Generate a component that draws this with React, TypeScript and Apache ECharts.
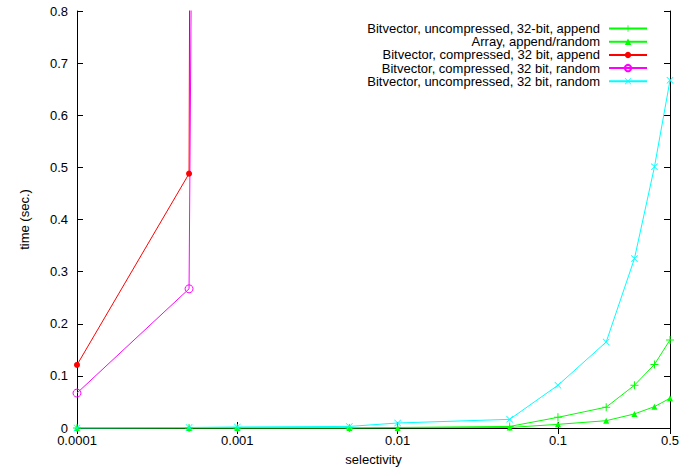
import React, { useEffect, useRef } from "react";
import * as echarts from "echarts";

const xValues = [0.0001, 0.0005, 0.001, 0.005, 0.01, 0.05, 0.1, 0.2, 0.3, 0.4, 0.5];
const uncompAppend = [0, 0, 0, 0, 0.001, 0.003, 0.0205, 0.040, 0.082, 0.122, 0.169];
const arrayAppendRandom = [0, 0, 0, 0, 0, 0.001, 0.007, 0.014, 0.027, 0.041, 0.057];
const compXValues = [0.0001, 0.0005, 0.001];
const compAppend = [0.121, 0.488, 30];
const compRandom = [0.067, 0.267, 13];
const uncompRandom = [0, 0.001, 0.002, 0.003, 0.0096, 0.0166, 0.082, 0.165, 0.325, 0.501, 0.667];

const seriesNames = [
  "Bitvector, uncompressed, 32-bit, append",
  "Array, append/random",
  "Bitvector, compressed, 32 bit, append",
  "Bitvector, compressed, 32 bit, random",
  "Bitvector, uncompressed, 32 bit, random",
];
const yTicks = ["0", "0.1", "0.2", "0.3", "0.4", "0.5", "0.6", "0.7", "0.8"];

const PLUS = "path://M4.4,0H5.6V4.4H10V5.6H5.6V10H4.4V5.6H0V4.4H4.4Z";
const CROSS =
  "path://M0.8,0L5,4.2L9.2,0L10,0.8L5.8,5L10,9.2L9.2,10L5,5.8L0.8,10L0,9.2L4.2,5L0,0.8Z";

const zip = (xs: number[], ys: number[]) => xs.map((x, i) => [x, ys[i]]);

export default function App() {
  const ref = useRef<HTMLDivElement>(null);
  useEffect(() => {
    if (!ref.current) return;
    const chart = echarts.init(ref.current, null, { renderer: "svg" });
    const font = "'Liberation Sans', Arial, sans-serif";
    const fs = 13;
    const fmtX = (v: number) => String(Number(v.toPrecision(6)));
    const axisLine = { show: true, lineStyle: { color: "#000", width: 1 } };
    const tick = { show: true, inside: true, length: 6, lineStyle: { color: "#000" } };
    const mkLine = (name: string, data: number[][], color: string, symbol: string, size: number, empty = false) => ({
      type: "line",
      name,
      data,
      symbol,
      symbolSize: size,
      showSymbol: true,
      clip: true,
      lineStyle: { color, width: 1 },
      itemStyle: empty
        ? { color: "rgba(255,255,255,0)", borderColor: color, borderWidth: 1 }
        : { color, borderWidth: 0 },
      emphasis: { disabled: true },
      xAxisIndex: 0,
      yAxisIndex: 0,
    });
    chart.setOption({
      animation: false,
      backgroundColor: "#fff",
      textStyle: { fontFamily: font },
      grid: { left: 77, right: 25, top: 11, bottom: 42 },
      legend: {
        orient: "vertical",
        right: 42,
        top: 17,
        align: "right",
        itemWidth: 38,
        itemHeight: 8,
        itemGap: 0.2,
        selectedMode: false,
        textStyle: { fontFamily: font, fontSize: fs, color: "#000", lineHeight: 13, padding: [0, 4, 0, 0] },
        data: seriesNames,
      },
      xAxis: [
        {
          type: "log",
          min: 0.0001,
          max: 0.5,
          interval: 1,
          position: "bottom",
          name: "selectivity",
          nameLocation: "middle",
          nameGap: 25,
          nameTextStyle: { fontFamily: font, fontSize: fs, color: "#000" },
          axisLine,
          axisTick: tick,
          minorTick: { show: false },
          axisLabel: { color: "#000", fontSize: fs, fontFamily: font, margin: 6, formatter: fmtX },
          splitLine: { show: false },
        },
        {
          type: "log",
          min: 0.0001,
          max: 0.5,
          interval: 1,
          position: "top",
          axisLine,
          axisTick: tick,
          axisLabel: { show: false },
          splitLine: { show: false },
        },
      ],
      yAxis: [
        {
          type: "value",
          min: 0,
          max: 0.8,
          interval: 0.1,
          position: "left",
          name: "time (sec.)",
          nameLocation: "middle",
          nameGap: 46,
          nameTextStyle: { fontFamily: font, fontSize: fs, color: "#000" },
          axisLine,
          axisTick: tick,
          axisLabel: {
            color: "#000",
            fontSize: fs,
            fontFamily: font,
            margin: 9,
            formatter: (v: number) => yTicks[Math.round(v * 10)] ?? String(v),
          },
          splitLine: { show: false },
        },
        {
          type: "value",
          min: 0,
          max: 0.8,
          interval: 0.1,
          position: "right",
          axisLine,
          axisTick: tick,
          axisLabel: { show: false },
          splitLine: { show: false },
        },
      ],
      series: [
        mkLine(seriesNames[0], zip(xValues, uncompAppend), "#00ff00", PLUS, 8),
        mkLine(seriesNames[1], zip(xValues, arrayAppendRandom), "#00ff00", "triangle", 6),
        mkLine(seriesNames[2], zip(compXValues, compAppend), "#ff0000", "circle", 6),
        mkLine(seriesNames[3], zip(compXValues, compRandom), "#ff00ff", "circle", 8, true),
        mkLine(seriesNames[4], zip(xValues, uncompRandom), "#00ffff", CROSS, 7),
      ],
    });
    return () => chart.dispose();
  }, []);
  return (
    <div
      ref={ref}
      style={{ position: "fixed", left: 0, top: 0, width: 695, height: 471 }}
    />
  );
}
